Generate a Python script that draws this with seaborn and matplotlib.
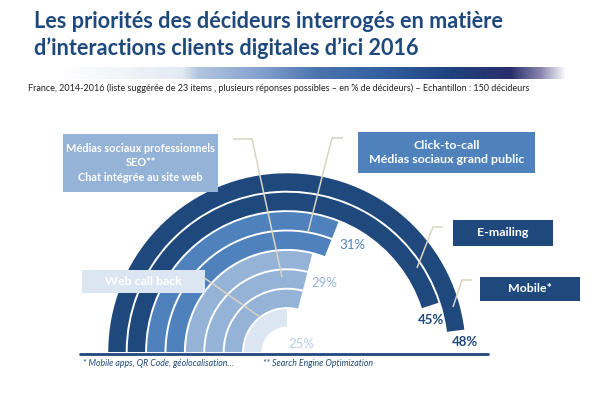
import numpy as np
import pandas as pd
import seaborn as sns
import matplotlib.pyplot as plt
from matplotlib.colors import LinearSegmentedColormap
from matplotlib.patches import Rectangle


# rings from outside to inside
items = [
    "Mobile*",
    "E-mailing",
    "Click-to-call",
    "Médias sociaux grand public",
    "Médias sociaux professionnels",
    "SEO**",
    "Chat intégrée au site web",
    "Web call back",
]
scores = [48, 45, 31, 31, 29, 29, 29, 25]
tiers = ["fort", "fort", "moyen", "moyen", "faible", "faible", "faible", "min"]

TIER_COLORS = {
    "fort": "#1F497D",
    "moyen": "#4F81BD",
    "faible": "#95B3D7",
    "min": "#DCE6F2",
}
LABEL_COLORS = {
    "fort": "#1F497D",
    "moyen": "#4F81BD",
    "faible": "#95B3D7",
    "min": "#B9CDE5",
}
NAVY = "#1F497D"
LEADER = "#D9D4C3"

W, H = 597, 393
CX, CY = 287, 352          # centre of the rings, in pixels (top origin)
R_MAX = 180
RING_STEP = 19.4

sns.set_theme(style="white")
plt.rcParams["font.family"] = ["Lato", "DejaVu Sans"]

df = pd.DataFrame({"item": items, "score": scores, "tier": tiers})
df["theta"] = np.deg2rad(df["score"] / 100 * 360)
df["r"] = 170 - RING_STEP * np.arange(len(df))

fig = plt.figure(figsize=(W / 100, H / 100), dpi=100)
fig.patch.set_facecolor("white")

# polar axes placed so that its centre sits at (CX, CY)
ax = fig.add_axes(
    [(CX - R_MAX) / W, (H - CY - R_MAX) / H, 2 * R_MAX / W, 2 * R_MAX / H],
    projection="polar",
    zorder=2,
)
sns.barplot(
    data=df,
    x="theta",
    y="r",
    hue="tier",
    palette=TIER_COLORS,
    orient="h",
    native_scale=True,
    width=0.9,
    dodge=False,
    errorbar=None,
    saturation=1,
    linewidth=0,
    legend=False,
    ax=ax,
)
ax.set_theta_zero_location("W")
ax.set_theta_direction(-1)
ax.set_thetalim(0, 2 * np.pi)
ax.set_rlim(0, R_MAX)
ax.set_facecolor("none")
ax.set_axis_off()

# overlay in pixel coordinates for text, boxes and decoration
ov = fig.add_axes([0, 0, 1, 1], zorder=3)
ov.patch.set_alpha(0)

# gradient rule under the title
grad = LinearSegmentedColormap.from_list(
    "rule",
    [
        (0.00, "#FFFFFF"),
        (0.24, "#E4EAF3"),
        (0.27, "#B3C6E0"),
        (0.39, "#86A3CF"),
        (0.51, "#4A73AE"),
        (0.63, "#3661A1"),
        (0.77, "#1E437F"),
        (0.89, "#2A2E6A"),
        (0.95, "#8A86B0"),
        (1.00, "#FFFFFF"),
    ],
)
ov.imshow(np.linspace(0, 1, 512)[None, :], extent=[60, 567, 79, 67],
          cmap=grad, aspect="auto", interpolation="bilinear")

ov.text(34, 28, "Les priorités des décideurs interrogés en matière",
        fontsize=15.6, fontweight="bold", color=NAVY, va="baseline")
ov.text(34, 55, "d’interactions clients digitales d’ici 2016",
        fontsize=15.6, fontweight="bold", color=NAVY, va="baseline")
ov.text(28, 88,
        "France, 2014-2016 (liste suggérée de 23 items , plusieurs réponses possibles – en % de décideurs) – Echantillon : 150 décideurs",
        fontsize=6.5, color="#222222", va="center")

# leader lines
leaders = [
    ([233, 252, 282], [139, 139, 277]),
    ([343, 332, 308], [138, 138, 232]),
    ([203, 260], [277, 317]),
    ([443, 433, 417], [227, 227, 268]),
    ([472, 462, 453], [280, 280, 307]),
]
for xs, ys in leaders:
    ov.plot(xs, ys, color=LEADER, lw=1.1, solid_capstyle="butt")

# label boxes
boxes = [
    ((63, 134, 155, 58), TIER_COLORS["faible"], 7.9,
     "Médias sociaux professionnels\nSEO**\nChat intégrée au site web"),
    ((358, 132, 177, 41), TIER_COLORS["moyen"], 8.9,
     "Click-to-call\nMédias sociaux grand public"),
    ((453, 220, 100, 26), TIER_COLORS["fort"], 8.9, "E-mailing"),
    ((480, 277, 100, 24), TIER_COLORS["fort"], 8.9, "Mobile*"),
    ((82, 270, 123, 23), TIER_COLORS["min"], 8.9, "Web call back"),
]
for (x, y, w, h), color, size, text in boxes:
    ov.add_patch(Rectangle((x, y), w, h, facecolor=color, edgecolor="none"))
    ov.text(x + w / 2, y + h / 2, text, ha="center", va="center",
            fontsize=size, fontweight="bold", color="white", linespacing=1.35)

# percentage labels
pct_pos = {48: (465, 342), 45: (431, 320), 31: (352, 245), 29: (324, 283), 25: (301, 344)}
for score, tier in dict(zip(scores, tiers)).items():
    px, py = pct_pos[score]
    ov.text(px, py, f"{score}%", ha="center", va="center", fontsize=9.5,
            fontweight="bold" if tier == "fort" else "normal",
            color=LABEL_COLORS[tier])

# footnotes
ov.plot([80, 488], [354, 354], color=NAVY, lw=2)
ov.text(83, 363, "* Mobile apps, QR Code, géolocalisation…", fontsize=6.3,
        style="italic", color=NAVY, va="center")
ov.text(263, 363, "** Search Engine Optimization", fontsize=6.3,
        style="italic", color=NAVY, va="center")

ov.set_xlim(0, W)
ov.set_ylim(H, 0)
ov.axis("off")

fig.savefig("out.png", dpi=100)
